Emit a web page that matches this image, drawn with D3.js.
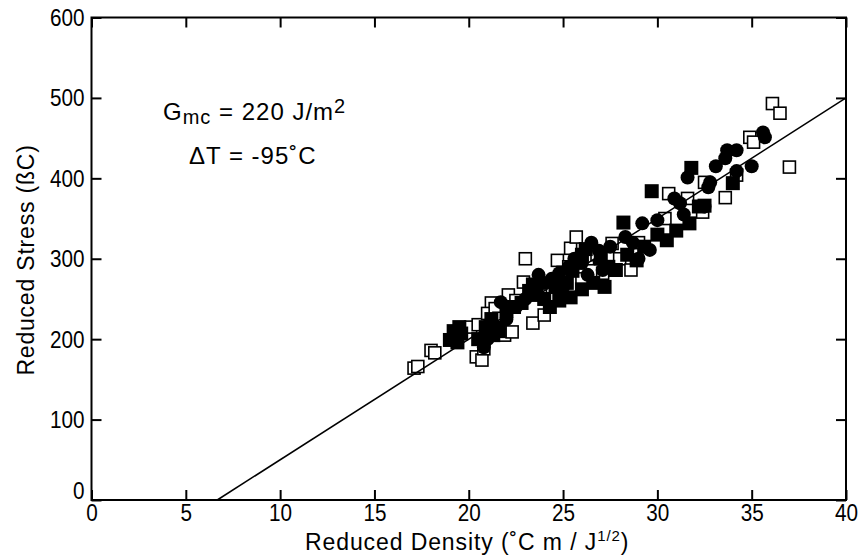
<!DOCTYPE html>
<html lang="en">
  <head>
    <meta charset="UTF-8" />
    <title>Reduced stress vs reduced density</title>
    <script src="https://cdn.jsdelivr.net/npm/d3@7"></script>
    <style>
      body {
        margin: 0;
        background: #fff;
      }
      text {
        font-family: 'Liberation Sans', Arial, sans-serif;
        fill: #000;
      }
    </style>
  </head>
  <body>
    <svg width="862" height="556"></svg>
    <script>
      // [reduced density, reduced stress]
      const openSquares = [
        [17.1, 164], [17.3, 166], [18.0, 186], [18.2, 183], [20.1, 215],
        [20.5, 218], [20.4, 178], [20.7, 174], [20.8, 188], [21.2, 245],
        [21.0, 232], [21.4, 238], [21.6, 226], [21.9, 205], [22.1, 255],
        [22.3, 209], [22.5, 248], [22.9, 271], [23.0, 300], [23.4, 220],
        [24.0, 230], [23.8, 262], [24.2, 250], [24.7, 298], [25.0, 283],
        [25.4, 313], [25.7, 327], [25.3, 290], [26.0, 275], [26.3, 300],
        [26.8, 305], [27.1, 282], [27.6, 319], [28.0, 300], [28.6, 286],
        [29.0, 320], [30.4, 350], [30.6, 381], [31.6, 375], [32.4, 358],
        [32.5, 395], [33.6, 376], [34.2, 404], [34.9, 451], [35.1, 445],
        [36.1, 493], [36.5, 481], [37.0, 414]
      ];

      const filledSquares = [
        [19.0, 199], [19.2, 210], [19.6, 207], [19.5, 215], [19.4, 196],
        [20.5, 200], [20.9, 215], [21.2, 225], [21.3, 205], [21.6, 210],
        [22.0, 235], [22.4, 240], [22.8, 245], [23.2, 260], [23.4, 268],
        [23.6, 255], [24.0, 250], [24.3, 240], [24.6, 265], [24.9, 258],
        [24.8, 248], [25.4, 252], [25.2, 270], [25.5, 285], [25.8, 295],
        [26.0, 262], [26.0, 305], [26.2, 312], [26.6, 270], [27.2, 265],
        [27.0, 300], [27.4, 290], [27.8, 286], [28.2, 345], [28.4, 305],
        [28.9, 298], [29.3, 315], [29.7, 384], [30.0, 330], [30.5, 323],
        [31.0, 335], [31.7, 344], [31.8, 413], [32.2, 365], [32.5, 366],
        [34.0, 394]
      ];

      const filledCircles = [
        [20.8, 190], [21.0, 200], [21.5, 215], [21.7, 246], [22.0, 225],
        [22.5, 240], [23.0, 250], [23.5, 262], [23.7, 280], [24.0, 270],
        [24.4, 275], [24.8, 282], [25.0, 265], [25.3, 290], [25.6, 300],
        [26.0, 295], [26.3, 280], [26.5, 320], [26.9, 310], [27.1, 286],
        [27.5, 315], [28.3, 327], [28.7, 320], [29.0, 300], [29.2, 344],
        [29.6, 311], [30.0, 348], [30.9, 375], [31.2, 369], [31.4, 355],
        [31.6, 401], [32.5, 365], [32.7, 389], [32.8, 395], [33.1, 415],
        [33.6, 425], [33.7, 435], [34.2, 435], [34.2, 409], [35.0, 415],
        [35.6, 457], [35.7, 451]
      ];

      // fitted line end points
      const fitLine = [[6.667, 0], [40, 500]];

      const xTicks = [0, 5, 10, 15, 20, 25, 30, 35, 40];
      const yTicks = [0, 100, 200, 300, 400, 500, 600];

      const svg = d3.select('svg');
      const mLeft = 91.5, mRight = 846, mTop = 17.5, mBottom = 500;

      const x = d3.scaleLinear().domain([0, 40]).range([mLeft, mRight]);
      const y = d3.scaleLinear().domain([0, 600]).range([mBottom, mTop]);

      const tickLen = 10;

      // data: open squares underneath, filled marks on top
      const plot = svg.append('g');

      plot
        .selectAll('.osq')
        .data(openSquares)
        .enter()
        .append('rect')
        .attr('x', (d) => x(d[0]) - 6)
        .attr('y', (d) => y(d[1]) - 6)
        .attr('width', 12)
        .attr('height', 12)
        .attr('fill', '#fff')
        .attr('stroke', '#000')
        .attr('stroke-width', 1.6);

      plot
        .selectAll('.fsq')
        .data(filledSquares)
        .enter()
        .append('rect')
        .attr('x', (d) => x(d[0]) - 7)
        .attr('y', (d) => y(d[1]) - 7)
        .attr('width', 14)
        .attr('height', 14)
        .attr('fill', '#000');

      plot
        .selectAll('.fc')
        .data(filledCircles)
        .enter()
        .append('circle')
        .attr('cx', (d) => x(d[0]))
        .attr('cy', (d) => y(d[1]))
        .attr('r', 7)
        .attr('fill', '#000');

      plot
        .append('path')
        .datum(fitLine)
        .attr('d', d3.line().x((d) => x(d[0])).y((d) => y(d[1])))
        .attr('fill', 'none')
        .attr('stroke', '#000')
        .attr('stroke-width', 1.5);

      // axes: inward ticks on all four sides
      const axB = svg.append('g').attr('transform', `translate(0,${mBottom})`)
        .call(d3.axisBottom(x).tickValues(xTicks).tickSizeInner(-tickLen).tickSizeOuter(0));
      const axT = svg.append('g').attr('transform', `translate(0,${mTop})`)
        .call(d3.axisTop(x).tickValues(xTicks).tickSizeInner(-tickLen).tickSizeOuter(0).tickFormat(''));
      const axL = svg.append('g').attr('transform', `translate(${mLeft},0)`)
        .call(d3.axisLeft(y).tickValues(yTicks).tickSizeInner(-tickLen).tickSizeOuter(0));
      const axR = svg.append('g').attr('transform', `translate(${mRight},0)`)
        .call(d3.axisRight(y).tickValues(yTicks).tickSizeInner(-tickLen).tickSizeOuter(0).tickFormat(''));

      [axB, axT, axL, axR].forEach((a) => {
        a.select('.domain').remove();
        a.attr('font-family', null).attr('font-size', null);
        a.selectAll('line').attr('stroke', '#000').attr('stroke-width', 2);
        a.selectAll('text').style('font-size', '23px');
      });
      axB.selectAll('text')
        .attr('y', 0)
        .attr('dy', 0)
        .attr('transform', 'translate(0,21) scale(0.9,1)');
      axL.selectAll('text')
        .attr('x', 0)
        .attr('dy', (d) => (d === 0 ? '-0.05em' : '0.35em'))
        .attr('transform', 'translate(-7,0) scale(0.9,1)');

      svg
        .append('rect')
        .attr('x', mLeft)
        .attr('y', mTop)
        .attr('width', mRight - mLeft)
        .attr('height', mBottom - mTop)
        .attr('fill', 'none')
        .attr('stroke', '#000')
        .attr('stroke-width', 2);

      // axis titles
      const xt = svg
        .append('text')
        .attr('x', 305)
        .attr('y', 550)
        .style('font-size', '23px')
        .style('letter-spacing', '0.9px');
      xt.append('tspan').text('Reduced Density (˚C m / J');
      xt.append('tspan').attr('dx', 0).attr('dy', -9).style('font-size', '15px').text('1/2');
      xt.append('tspan').attr('dy', 9).text(')');

      svg
        .append('text')
        .attr('transform', `translate(34,260) rotate(-90)`)
        .attr('text-anchor', 'middle')
        .style('font-size', '23px')
        .style('letter-spacing', '0.8px')
        .text('Reduced Stress (ßC)');

      // annotations
      const g1 = svg.append('text').attr('x', 163).attr('y', 120)
        .style('font-size', '24px').style('letter-spacing', '1px');
      g1.append('tspan').text('G');
      g1.append('tspan').attr('dy', 4).style('font-size', '20px').text('mc');
      g1.append('tspan').attr('dy', -4).text(' = 220 J/m');
      g1.append('tspan').attr('dy', -7).style('font-size', '20px').text('2');

      svg
        .append('text')
        .attr('x', 189)
        .attr('y', 164)
        .style('font-size', '24px')
        .style('letter-spacing', '1px')
        .text('ΔT = -95˚C');
    </script>
  </body>
</html>
